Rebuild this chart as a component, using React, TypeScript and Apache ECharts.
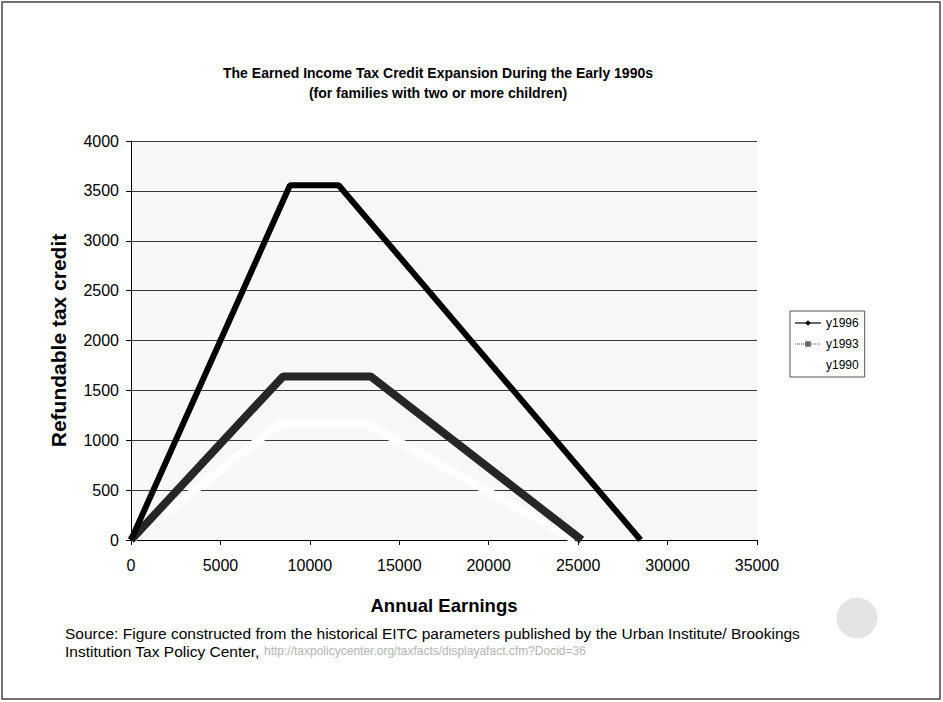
import React, { useEffect, useRef } from "react";
import * as echarts from "echarts";

// EITC schedules (earnings, credit) for a family with two or more children
const earnings1996 = [0, 8890, 11610, 28495];
const credit1996 = [0, 3556, 3556, 0];
const earnings1993 = [0, 8500, 13400, 25200];
const credit1993 = [0, 1640, 1640, 0];
const earnings1990 = [0, 8340, 13140, 24820];
const credit1990 = [0, 1170, 1170, 0];

const seriesNames = ["y1996", "y1993", "y1990"];
const xTicks = [0, 35000, 5000];
const yTicks = [0, 4000, 500];

const FONT = "'Liberation Sans', Arial, sans-serif";

const pairs = (xs: number[], ys: number[]) => xs.map((x, i) => [x, ys[i]]);

export default function App() {
  const ref = useRef<HTMLDivElement>(null);

  useEffect(() => {
    if (!ref.current) return;
    const chart = echarts.init(ref.current, undefined, { renderer: "svg" });
    chart.setOption({
      animation: false,
      backgroundColor: "#ffffff",
      textStyle: { fontFamily: FONT },
      title: [
        {
          text: "The Earned Income Tax Credit Expansion During the Early 1990s",
          left: 433,
          top: 61,
          textAlign: "center",
          textStyle: { fontSize: 14, fontWeight: "bold", color: "#000", fontFamily: FONT },
        },
        {
          text: "(for families with two or more children)",
          left: 433,
          top: 81,
          textAlign: "center",
          textStyle: { fontSize: 14, fontWeight: "bold", color: "#000", fontFamily: FONT },
        },
      ],
      grid: {
        left: 131,
        right: 186,
        top: 141,
        bottom: 162,
        show: true,
        backgroundColor: "#f8f8f8",
        borderWidth: 0,
      },
      legend: {
        orient: "vertical",
        left: 790,
        top: 311,
        itemWidth: 26,
        itemHeight: 7,
        itemGap: 9,
        padding: [6, 6, 6, 4],
        borderColor: "#555",
        borderWidth: 1,
        textStyle: { fontSize: 12, color: "#000", fontFamily: FONT },
        data: [
          { name: seriesNames[0], lineStyle: { width: 1.2, color: "#000" }, itemStyle: { color: "#000" } },
          { name: seriesNames[1], lineStyle: { width: 1, type: "dotted", color: "#444" }, itemStyle: { color: "#666" } },
          { name: seriesNames[2] },
        ],
      },
      xAxis: {
        type: "value",
        min: xTicks[0],
        max: xTicks[1],
        interval: xTicks[2],
        name: "Annual Earnings",
        nameLocation: "middle",
        nameGap: 56,
        nameTextStyle: { fontSize: 18.5, fontWeight: "bold", color: "#000", fontFamily: FONT },
        axisLine: { onZero: false, lineStyle: { color: "#000", width: 1 } },
        axisTick: { show: true, inside: false, length: 5, lineStyle: { color: "#000" } },
        axisLabel: {
          fontSize: 16,
          color: "#000",
          margin: 17,
          fontFamily: FONT,
          formatter: (v: number) => String(v),
        },
        splitLine: { show: false },
      },
      yAxis: {
        type: "value",
        min: yTicks[0],
        max: yTicks[1],
        interval: yTicks[2],
        name: "Refundable tax credit",
        nameLocation: "middle",
        nameGap: 62,
        nameTextStyle: { fontSize: 21, fontWeight: "bold", color: "#000", fontFamily: FONT },
        axisLine: { show: true, lineStyle: { color: "#000", width: 1 } },
        axisTick: { show: true, inside: false, length: 5, lineStyle: { color: "#000" } },
        axisLabel: {
          fontSize: 16,
          color: "#000",
          margin: 12,
          fontFamily: FONT,
          formatter: (v: number) => String(v),
        },
        splitLine: { show: true, lineStyle: { color: "#3a3a3a", width: 1 } },
      },
      series: [
        {
          name: seriesNames[2],
          type: "line",
          data: pairs(earnings1990, credit1990),
          symbol: "none",
          color: "#ffffff",
          lineStyle: { color: "#ffffff", width: 8 },
          z: 3,
        },
        {
          name: seriesNames[1],
          type: "line",
          data: pairs(earnings1993, credit1993),
          symbol: "rect",
          symbolSize: 6,
          showSymbol: false,
          color: "#2a2a2a",
          lineStyle: { color: "#262626", width: 8 },
          z: 4,
        },
        {
          name: seriesNames[0],
          type: "line",
          data: pairs(earnings1996, credit1996),
          symbol: "diamond",
          symbolSize: 7,
          showSymbol: false,
          color: "#000",
          lineStyle: { color: "#000", width: 6 },
          z: 5,
        },
      ],
      graphic: [
        {
          type: "rect",
          shape: { x: 2, y: 2, width: 938, height: 697 },
          style: { fill: "none", stroke: "#444", lineWidth: 1.5 },
          silent: true,
        },
        {
          type: "circle",
          shape: { cx: 857, cy: 618, r: 20 },
          style: { fill: "#e4e4e4", stroke: "#cfcfcf", lineWidth: 1, lineDash: [1, 2] },
          silent: true,
        },
        {
          type: "text",
          left: 65,
          top: 625,
          style: {
            text: "Source: Figure constructed from the historical EITC parameters published by the Urban Institute/ Brookings",
            font: `15.5px ${FONT}`,
            fill: "#000",
          },
        },
        {
          type: "text",
          left: 65,
          top: 643,
          style: {
            text: "{a|Institution Tax Policy Center, }{b|http://taxpolicycenter.org/taxfacts/displayafact.cfm?Docid=36}",
            rich: {
              a: { font: `15.5px ${FONT}`, fill: "#000" },
              b: { font: `12px ${FONT}`, fill: "#b5b5b5" },
            },
          },
        },
      ],
    });
    return () => chart.dispose();
  }, []);

  return (
    <div
      ref={ref}
      style={{ position: "absolute", left: 0, top: 0, width: 943, height: 702 }}
    />
  );
}
